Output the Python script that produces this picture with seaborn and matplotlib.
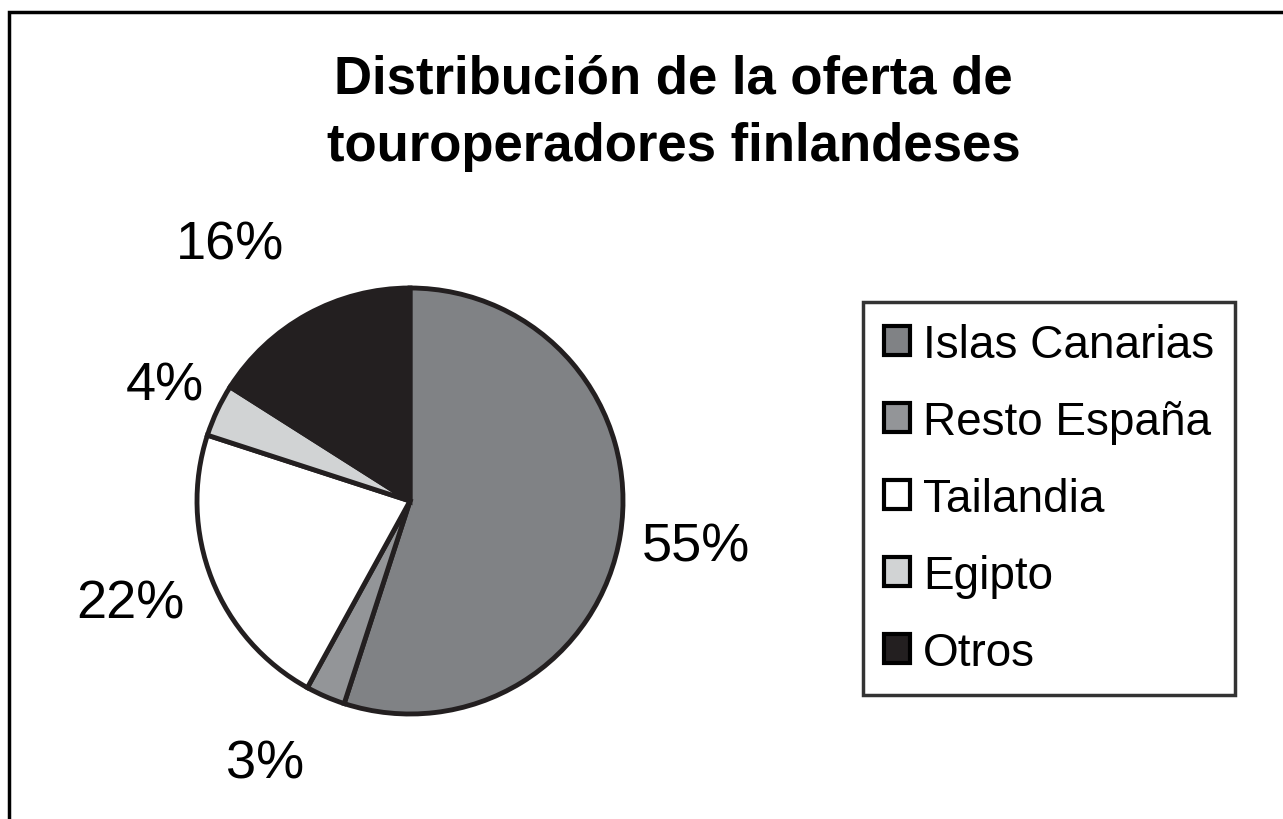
import numpy as np
import matplotlib
matplotlib.use("Agg")
import matplotlib.pyplot as plt
import matplotlib.patches as mpatches
import seaborn as sns

sns.set_theme(style="white")
plt.rcParams["font.family"] = ["Liberation Sans", "DejaVu Sans"]
plt.rcParams["text.color"] = "black"

# ---------- DATA ----------
categories = ["Islas Canarias", "Resto España", "Tailandia", "Egipto", "Otros"]
shares = [55, 3, 22, 4, 16]
colors = ["#808285", "#939598", "#ffffff", "#d1d3d4", "#231f20"]
# label placement: distance (in radii) and angle nudge (deg) from wedge middle
label_dist = [1.36, 1.41, 1.40, 1.27, 1.47]
label_nudge = [0, -5.5, -1.4, 0, 6.2]
title = "Distribución de la oferta de\ntouroperadores finlandeses"

W, H = 1283, 820
fig = plt.figure(figsize=(W / 100, H / 100), dpi=100)

# pie area (centre 410,502 px, radius 213 px)
cx, cy, r = 410, 502, 213
ax = fig.add_axes([(cx - r) / W, (H - cy - r) / H, 2 * r / W, 2 * r / H])
wedges, _ = ax.pie(shares, colors=colors, startangle=90, counterclock=False,
                   wedgeprops=dict(edgecolor="#231f20", linewidth=3.5))
ax.set_xlim(-1, 1)
ax.set_ylim(-1, 1)
ax.set_aspect("auto")
ax.axis("off")

# percent labels
for w, val, d, nd in zip(wedges, shares, label_dist, label_nudge):
    ang = np.deg2rad((w.theta1 + w.theta2) / 2 + nd)
    ax.text(d * np.cos(ang), d * np.sin(ang), f"{val}%", fontsize=39,
            ha="center", va="center", color="black", clip_on=False)

fig.text(0.525, 1 - 113 / H, title, fontsize=38, fontweight="bold",
         ha="center", va="center", linespacing=1.45, color="black")

handles = [mpatches.Patch(facecolor=c, edgecolor="black", linewidth=3)
           for c in colors]
leg = fig.legend(handles, categories, loc="upper left",
                 bbox_to_anchor=(863 / W, 1 - 303 / H), fontsize=33,
                 frameon=True, fancybox=False, borderaxespad=0,
                 handlelength=0.58, handleheight=0.58, handletextpad=0.28,
                 labelspacing=0.72, borderpad=0.45, labelcolor="black")
leg.get_frame().set_edgecolor("black")
leg.get_frame().set_linewidth(2.5)

# outer frame (top and left sides visible)
fig.patches.append(mpatches.Rectangle((9 / W, -0.1), 1.2, 1.1 - 13 / H,
                                      transform=fig.transFigure, fill=False,
                                      edgecolor="black", linewidth=2.5))

fig.savefig("out.png", dpi=100, facecolor="white")
